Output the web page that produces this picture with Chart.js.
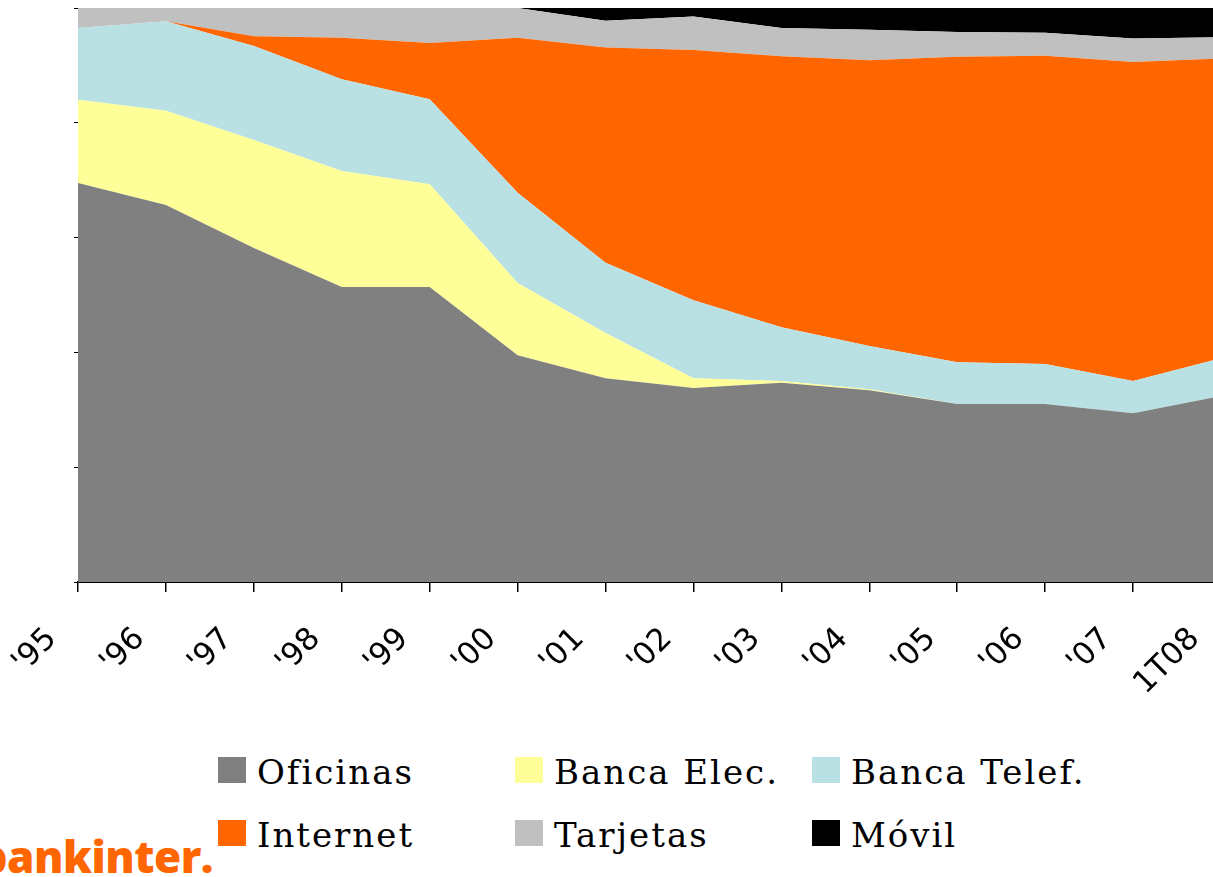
<!DOCTYPE html>
<html>
<head>
<meta charset="utf-8">
<script src="https://cdn.jsdelivr.net/npm/chart.js@4/dist/chart.umd.min.js"></script>
<style>
    html, body {margin: 0; padding: 0; overflow: hidden; background: #fff;}
    #wrap {position: relative; width: 1213px; height: 877px; overflow: hidden;}
    #chart {position: absolute; left: 0; top: 0;}
    .item {position: absolute; height: 63px;}
    .item .box {position: absolute; left: 0; top: 3px; width: 28px; height: 26px;}
    .item .txt {position: absolute; left: 39px; top: -1px; white-space: nowrap;
        font-family: "DejaVu Serif", serif; font-size: 34px; line-height: 38px; letter-spacing: 2px; color: #000;}
    #logo {position: absolute; left: -60px; width: 273px; top: 831px; text-align: right;
        font-family: "Open Sans", sans-serif; font-weight: 800; font-size: 44px; line-height: 50px;
        letter-spacing: -0.5px; color: #ff6600;}
</style>
</head>
<body>
<div id="wrap">
    <canvas id="chart" width="1222" height="700"></canvas>
    <div id="legend"></div>
    <div id="logo">bankinter.</div>
</div>
<script>
'use strict';

const labels = ["'95", "'96", "'97", "'98", "'99", "'00", "'01", "'02", "'03", "'04", "'05", "'06", "'07", "1T08"];

// % de operaciones por canal
const oficinas   = [69.5, 65.7, 58.2, 51.4, 51.4, 39.5, 35.5, 33.8, 34.7, 33.4, 31.0, 31.0, 29.4, 32.4];
const bancaElec  = [14.5, 16.4, 18.8, 20.2, 17.9, 12.6, 7.9, 1.7, 0.3, 0.2, 0, 0, 0, 0];
const bancaTelef = [12.5, 15.6, 16.4, 16.0, 14.8, 15.7, 12.2, 13.6, 9.4, 7.5, 7.3, 7.0, 5.6, 6.6];
const internet   = [0, 0, 1.7, 7.2, 9.8, 27.0, 37.5, 43.6, 47.2, 49.8, 53.2, 53.7, 55.6, 52.2];
const tarjetas   = [3.5, 2.3, 4.9, 5.2, 6.1, 5.2, 4.7, 5.8, 4.9, 5.3, 4.3, 4.0, 4.1, 3.7];
const movil      = [0, 0, 0, 0, 0, 0, 2.2, 1.5, 3.5, 3.8, 4.2, 4.3, 5.3, 5.1];

const series = [
    {label: 'Oficinas', color: '#808080', data: oficinas},
    {label: 'Banca Elec.', color: '#ffff99', data: bancaElec},
    {label: 'Banca Telef.', color: '#b9e0e3', data: bancaTelef},
    {label: 'Internet', color: '#ff6600', data: internet},
    {label: 'Tarjetas', color: '#c0c0c0', data: tarjetas},
    {label: 'Móvil', color: '#000000', data: movil}
];

function makeDatasets() {
    return series.map((s, i) => ({
        label: s.label,
        data: s.data,
        backgroundColor: s.color,
        borderColor: s.color,
        borderWidth: 0,
        pointRadius: 0,
        tension: 0,
        fill: i === 0 ? 'origin' : '-1'
    }));
}

function renderChart() {
    let ctx = document.getElementById('chart').getContext('2d');
    window.ChartCanales = new Chart(ctx, {
        type: 'line',
        data: {labels: labels, datasets: makeDatasets()},
        options: {
            responsive: false,
            animation: false,
            layout: {padding: {top: 8, right: 1, left: 0, bottom: 0}},
            plugins: {legend: {display: false}, tooltip: {enabled: false}},
            scales: {
                x: {
                    offset: false,
                    grid: {drawOnChartArea: false, drawTicks: true, tickLength: 10, color: '#000', lineWidth: 1.5},
                    border: {color: '#000', width: 2},
                    ticks: {
                        autoSkip: false, maxRotation: 45, minRotation: 45,
                        labelOffset: -26, padding: 29,
                        color: '#000', font: {family: 'DejaVu Sans', size: 31}
                    },
                    afterFit: scale => {
                        scale.height = 118;
                        scale.paddingLeft = 0;
                        scale.paddingRight = 0;
                    }
                },
                y: {
                    stacked: true, min: 0, max: 100,
                    grid: {drawOnChartArea: false, drawTicks: true, tickLength: 4, color: '#000'},
                    border: {color: '#333', width: 1},
                    ticks: {display: false, stepSize: 20},
                    afterFit: scale => {
                        scale.width = 78;
                    }
                }
            }
        }
    });
}

function renderLegend() {
    let legend = document.getElementById('legend');
    series.forEach((s, i) => {
        let col = i % 3, row = Math.floor(i / 3),
            item = document.createElement('div');
        item.className = 'item';
        item.style.left = (218 + col * 297) + 'px';
        item.style.top = (754 + row * 63) + 'px';
        item.innerHTML = `<div class="box" style="background:${s.color}"></div><div class="txt">${s.label}</div>`;
        legend.appendChild(item);
    });
}

renderChart();
renderLegend();
</script>
</body>
</html>
